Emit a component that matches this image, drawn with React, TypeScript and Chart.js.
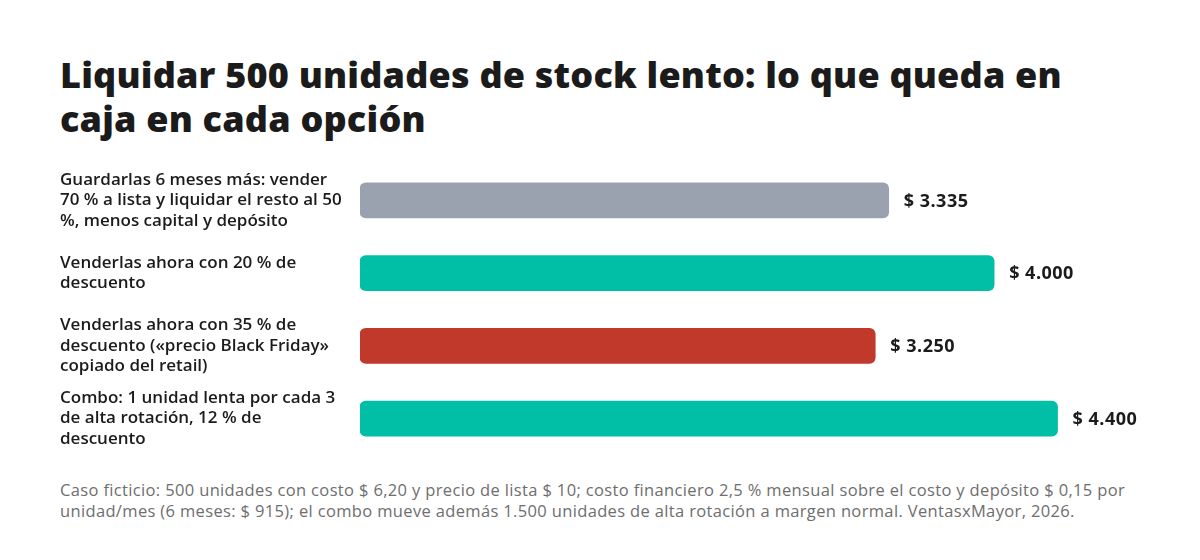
import { useEffect, useRef } from 'react';
import { Chart, registerables } from 'chart.js';

Chart.register(...registerables);

// options, wrapped the same way as in the reference
const categories: string[][] = [
  ['Guardarlas 6 meses más: vender', '70 % a lista y liquidar el resto al 50', '%, menos capital y depósito'],
  ['Venderlas ahora con 20 % de', 'descuento'],
  ['Venderlas ahora con 35 % de', 'descuento («precio Black Friday»', 'copiado del retail)'],
  ['Combo: 1 unidad lenta por cada 3', 'de alta rotación, 12 % de', 'descuento'],
];
const cashLeft = [3335, 4000, 3250, 4400];
const valueLabels = ['$ 3.335', '$ 4.000', '$ 3.250', '$ 4.400'];
const barColors = ['#9BA2AF', '#00BFA6', '#C0392B', '#00BFA6'];

const FONT = '"Open Sans", "Noto Sans", sans-serif';
const INK = '#1b1b1b';

const valueLabelPlugin = {
  id: 'valueLabels',
  afterDatasetsDraw(chart: Chart) {
    const { ctx } = chart;
    const meta = chart.getDatasetMeta(0);
    ctx.save();
    ctx.font = `700 18px ${FONT}`;
    (ctx as any).letterSpacing = '0.5px';
    ctx.fillStyle = INK;
    ctx.textAlign = 'left';
    ctx.textBaseline = 'middle';
    meta.data.forEach((bar: any, i: number) => {
      ctx.fillText(valueLabels[i], bar.x + 15, bar.y + 1);
    });
    ctx.restore();
  },
};

function CashChart() {
  const canvasRef = useRef<HTMLCanvasElement>(null);
  const chartRef = useRef<Chart | null>(null);

  useEffect(() => {
    if (!canvasRef.current) return;
    chartRef.current?.destroy();

    chartRef.current = new Chart(canvasRef.current, {
      type: 'bar',
      data: {
        labels: categories,
        datasets: [{
          data: cashLeft,
          backgroundColor: barColors,
          borderRadius: 6,
          borderSkipped: false,
          barThickness: 35,
        }],
      },
      options: {
        indexAxis: 'y',
        responsive: true,
        maintainAspectRatio: false,
        animation: false,
        layout: { padding: 0 },
        plugins: {
          legend: { display: false },
          tooltip: { enabled: false },
        },
        scales: {
          x: {
            display: false,
            min: 0,
            max: 4920,
          },
          y: {
            grid: { display: false },
            border: { display: false },
            // fixed label column; labels sit inside their rows so no extra padding
            afterFit: (scale: any) => {
              scale.width = 300;
              scale.paddingTop = 0;
              scale.paddingBottom = 0;
            },
            ticks: {
              crossAlign: 'far',
              color: INK,
              font: { size: 17, weight: 600, family: FONT, lineHeight: 1.2 },
            },
          },
        },
      },
      plugins: [valueLabelPlugin],
    });

    return () => {
      chartRef.current?.destroy();
      chartRef.current = null;
    };
  }, []);

  return (
    <div style={{ position: 'relative', width: 1080, height: 291 }}>
      <canvas ref={canvasRef} role="img" aria-label="Caja que queda en cada opción" />
    </div>
  );
}

export default function App() {
  return (
    <div style={{ padding: '45px 0 0 52px', fontFamily: FONT, color: INK }}>
      <h1 style={{ margin: 0, fontSize: 36, lineHeight: '44px', fontWeight: 800, letterSpacing: 0.2 }}>
        Liquidar 500 unidades de stock lento: lo que queda en<br />caja en cada opción
      </h1>
      <div style={{ marginTop: 23 }}>
        <CashChart />
      </div>
      <p style={{ margin: '24px 0 0', fontSize: 16.5, lineHeight: '21px', letterSpacing: 0.35, color: '#6e6e6e' }}>
        Caso ficticio: 500 unidades con costo $ 6,20 y precio de lista $ 10; costo financiero 2,5 % mensual sobre el costo y depósito $ 0,15 por<br />
        unidad/mes (6 meses: $ 915); el combo mueve además 1.500 unidades de alta rotación a margen normal. VentasxMayor, 2026.
      </p>
    </div>
  );
}
